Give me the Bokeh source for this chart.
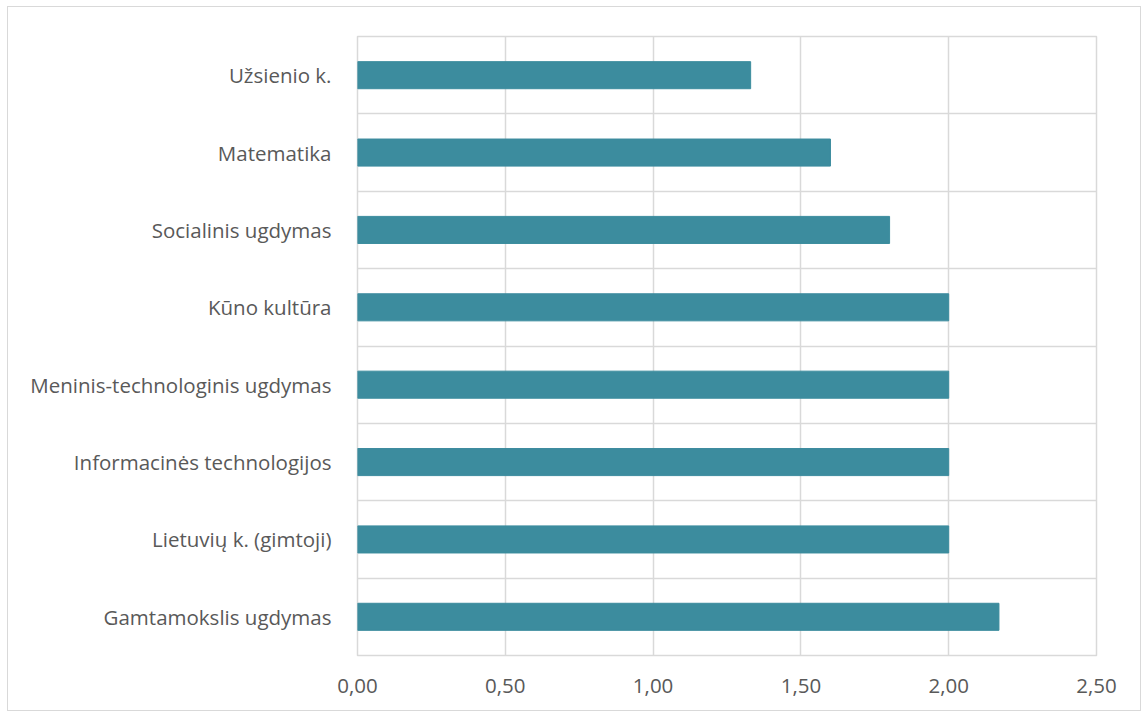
from bokeh.plotting import figure
from bokeh.models import FixedTicker, Range1d, ColumnDataSource
from bokeh.embed import file_html
from bokeh.resources import INLINE

categories = ["Gamtamokslis ugdymas", "Lietuvių k. (gimtoji)", "Informacinės technologijos",
              "Meninis-technologinis ugdymas", "Kūno kultūra", "Socialinis ugdymas",
              "Matematika", "Užsienio k."]
values = [2.17, 2.0, 2.0, 2.0, 2.0, 1.8, 1.6, 1.33]
x_ticks = [0.0, 0.5, 1.0, 1.5, 2.0, 2.5]
x_tick_labels = ["0,00", "0,50", "1,00", "1,50", "2,00", "2,50"]

FONT = "Open Sans"
TXT = "#595959"
GRID = "#d9d9d9"

pos = [i + 0.5 for i in range(len(categories))]
src = ColumnDataSource(dict(y=pos, v=values, cat=categories))

p = figure(width=1134, height=705, output_backend="svg", toolbar_location=None,
           x_range=Range1d(0, 2.5), y_range=Range1d(0, len(categories)),
           min_border_left=349, min_border_right=46, min_border_top=29, min_border_bottom=57,
           styles={"border": "1px solid #d9d9d9", "margin-left": "7px", "margin-top": "6px"})
p.hbar(y="y", right="v", left=0, height=0.35, source=src, color="#3C8C9E")

p.outline_line_color = GRID
p.outline_line_width = 1.5
p.xaxis.ticker = FixedTicker(ticks=x_ticks)
p.xaxis.major_label_overrides = {t: l for t, l in zip(x_ticks, x_tick_labels)}
p.yaxis.ticker = FixedTicker(ticks=pos)
p.yaxis.major_label_overrides = {y: c for y, c in zip(pos, categories)}
p.ygrid.ticker = FixedTicker(ticks=list(range(len(categories) + 1)))
p.xgrid.ticker = FixedTicker(ticks=x_ticks)
for g in (p.xgrid, p.ygrid):
    g.grid_line_color = GRID
    g.grid_line_width = 1.5
for ax in (p.xaxis, p.yaxis):
    ax.axis_line_color = None
    ax.major_tick_line_color = None
    ax.minor_tick_line_color = None
    ax.major_label_text_font = FONT
    ax.major_label_text_font_size = "20.5px"
    ax.major_label_text_color = TXT
p.xaxis.major_label_standoff = 17
p.yaxis.major_label_standoff = 20

open("out.html", "w").write(file_html(p, INLINE))
